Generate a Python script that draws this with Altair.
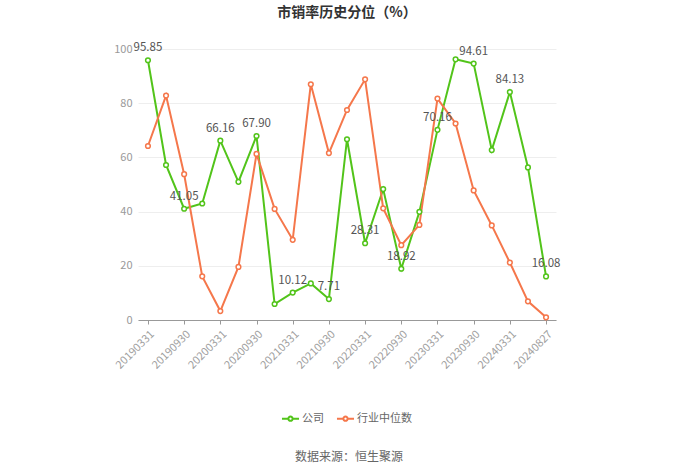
import altair as alt
import pandas as pd

dates = ["20190331", "20190630", "20190930", "20191231", "20200331", "20200630",
         "20200930", "20201231", "20210331", "20210630", "20210930", "20211231",
         "20220331", "20220630", "20220930", "20221231", "20230331", "20230630",
         "20230930", "20231231", "20240331", "20240630", "20240827"]
company = [95.85, 57.2, 41.05, 43.0, 66.16, 51.0, 67.90, 5.9, 10.12, 13.5, 7.71, 66.7,
           28.31, 48.3, 18.92, 39.9, 70.16, 96.2, 94.61, 62.7, 84.13, 56.3, 16.08]
industry = [64.2, 82.8, 53.8, 16.1, 3.3, 19.6, 61.3, 41.0, 29.6, 87.0, 61.6, 77.5,
            88.8, 41.2, 27.6, 35.1, 81.7, 72.5, 47.8, 34.9, 21.2, 6.9, 1.0]
series_names = ["公司", "行业中位数"]
colors = ["#52c41a", "#f5774b"]
label_idx = [0, 2, 4, 6, 8, 10, 12, 14, 16, 18, 20, 22]
tick_dates = [dates[i] for i in label_idx]

FONT = "Noto Sans CJK SC"

rows = []
for i, d in enumerate(dates):
    rows.append({"date": d, "series": series_names[0], "value": company[i], "order": 0})
    rows.append({"date": d, "series": series_names[1], "value": industry[i], "order": 1})
df = pd.DataFrame(rows)
lab_df = pd.DataFrame({"date": [dates[i] for i in label_idx],
                       "value": [company[i] for i in label_idx],
                       "label": [f"{company[i]:.2f}" for i in label_idx]})

legend_shape = "M-2.2,0 L-0.55,0 M0.55,0 L2.2,0 M0.55,0 A0.55,0.55 0 1,1 -0.55,0 A0.55,0.55 0 1,1 0.55,0 Z"

x_enc = alt.X("date:N", sort=dates,
              scale=alt.Scale(type="point", padding=0.55),
              axis=alt.Axis(values=tick_dates, labelAngle=315, labelAlign="right",
                            labelBaseline="top", labelColor="#a0a0a0", labelFontSize=11,
                            labelFont=FONT, tickColor="#999999", tickSize=4,
                            domainColor="#999999", grid=False, title=None,
                            labelPadding=4, labelOverlap=False))
y_enc = alt.Y("value:Q", scale=alt.Scale(domain=[0, 100], nice=False),
              axis=alt.Axis(values=[0, 20, 40, 60, 80, 100], labelColor="#999999",
                            labelFontSize=11, labelFont=FONT, domain=False, ticks=False,
                            gridColor="#eeeeee", labelPadding=6, title=None))
color_enc = alt.Color("series:N", sort=series_names,
                      scale=alt.Scale(domain=series_names, range=colors),
                      legend=alt.Legend(title=None, orient="none", direction="horizontal",
                                        legendX=147, legendY=364, symbolType=legend_shape,
                                        symbolSize=60, symbolStrokeWidth=2,
                                        symbolFillColor="white", labelFont=FONT,
                                        labelFontSize=11, labelColor="#666666",
                                        columnPadding=8, labelOffset=6))

base = alt.Chart(df)
lines = base.mark_line(strokeWidth=2).encode(x=x_enc, y=y_enc, color=color_enc,
                                             order=alt.Order("order:Q"))
points = base.mark_point(filled=True, fill="white", size=22, strokeWidth=1.5, opacity=1).encode(
    x=alt.X("date:N", sort=dates), y="value:Q",
    stroke=alt.Stroke("series:N", scale=alt.Scale(domain=series_names, range=colors), legend=None))
labels = alt.Chart(lab_df).mark_text(dy=-12, fontSize=11.5, font=FONT, color="#555555").encode(
    x=alt.X("date:N", sort=dates), y="value:Q", text="label:N")
source = alt.Chart(pd.DataFrame({"t": ["数据来源：恒生聚源"]})).mark_text(
    fontSize=12, font=FONT, color="#666666").encode(
    x=alt.value(211), y=alt.value(408), text="t:N")

chart = alt.layer(lines, points, labels, source).properties(
    width=418, height=271,
    title=alt.TitleParams("市销率历史分位（%）", font=FONT, fontSize=14, fontWeight="bold",
                          color="#333333", anchor="middle", offset=22),
    autosize=alt.AutoSizeParams(type="none"),
    padding={"left": 138, "top": 49, "right": 144, "bottom": 153},
).configure_view(stroke=None)

chart.save("out.html", embed_options={"renderer": "svg", "actions": False})
